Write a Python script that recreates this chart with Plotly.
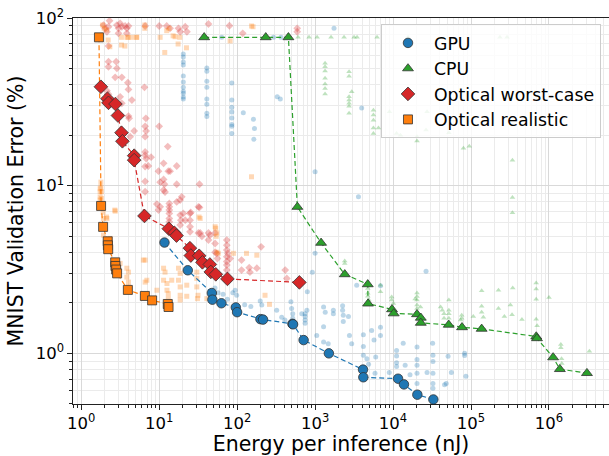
import plotly.graph_objects as go

# ---------------- Pareto fronts ----------------
gpu_x = [11.7, 23.3, 47.4, 48.2, 62.9, 96.2, 100, 199, 215, 512, 522, 713, 1503, 4120, 4160, 11600, 13800, 20500, 32900]
gpu_y = [4.58, 3.13, 2.29, 2.09, 1.99, 1.88, 1.76, 1.60, 1.59, 1.50, 1.49, 1.20, 1.0, 0.80, 0.72, 0.706, 0.653, 0.567, 0.531]

cpu_x = [37.8, 233, 455, 593, 1194, 2404, 4740, 4780, 9700, 10200, 20300, 22700, 22700, 51800, 76700, 137000, 687000, 702000, 1.13e6, 1.38e6, 3.07e6]
cpu_y = [76.7, 76.7, 76.7, 7.47, 4.56, 2.96, 2.58, 1.98, 1.83, 1.73, 1.71, 1.63, 1.52, 1.48, 1.43, 1.40, 1.26, 1.23, 0.946, 0.805, 0.762]

worst_x = [1.79, 2.17, 2.24, 2.75, 2.96, 3.29, 3.38, 4.78, 4.78, 6.48, 13.3, 15.7, 16.7, 24.8, 25.5, 32.6, 35.9, 44.7, 46.0, 53.3, 75.1, 629]
worst_y = [38.9, 33.0, 31.2, 30.7, 26.2, 20.7, 18.4, 15.1, 14.2, 6.60, 5.54, 5.23, 5.04, 4.24, 3.83, 3.82, 3.49, 3.39, 3.06, 2.96, 2.78, 2.65]

real_x = [1.69, 1.80, 1.91, 2.19, 2.20, 2.22, 2.73, 2.75, 2.81, 2.89, 3.97, 6.56, 8.13, 12.9, 13.2]
real_y = [76.7, 7.57, 5.68, 4.66, 4.41, 4.18, 3.49, 3.32, 3.16, 3.00, 2.39, 2.20, 2.07, 1.97, 1.89]

# ---------------- all other (faint) networks ----------------
gpu_all_x = ([20.4] * 11 + [40.9] * 8 + [85.5] * 8 +
             [120, 162, 167, 164, 327, 358, 1000, 1750, 3600, 3960, 63.5, 293, 365,
              94.3, 98.7, 198, 207, 322, 373, 410, 490, 500, 517, 517, 517, 675, 745, 745, 745, 745,
              785, 795, 921, 1000, 1050, 1285, 1350, 1285, 1285, 1716, 1716, 2255, 2255, 2300, 2300,
              2680, 1475, 2760, 2950, 3420, 4160, 4160, 4160, 4620, 5320, 5700, 6900, 6900, 6900,
              4850, 5870, 5990, 8950, 11100, 11100, 11100, 11100, 13500, 14300, 16500, 20300, 20300,
              20300, 20300, 20300, 27300, 26500, 32200, 32500, 32500, 32500, 32500, 32500, 45800,
              48100, 50800, 56000, 82800, 82800, 86000, 52, 57, 66, 75, 88, 125, 150])
gpu_all_y = ([61, 58.5, 54.6, 52.4, 45.1, 41.5, 38.7, 36.6, 35.6, 33.8, 32.9] +
             [50.3, 48.2, 42.0, 38.7, 32.9, 30.6, 27.0, 25.9] +
             [40.9, 32.4, 29.4, 27.5, 25.3, 23.2, 22.6, 20.5] +
             [27.2, 24.9, 21.9, 18.9, 33.9, 32.9, 12.1, 86.8, 8.6, 29.1, 76.7, 76.7, 76.7,
              2.38, 2.22, 2.05, 1.94, 1.81, 1.64, 1.58, 2.03, 1.85, 1.72, 1.62, 1.52, 1.72, 1.72, 1.66, 1.58, 1.51,
              1.81, 2.33, 3.05, 3.95, 1.28, 1.89, 1.76, 1.44, 1.17, 1.81, 1.72, 1.92, 1.81, 1.55, 1.69,
              1.66, 1.14, 1.28, 1.14, 2.55, 1.29, 1.10, 0.973, 0.93, 1.37, 1.20, 1.43, 1.28, 2.53,
              0.86, 0.76, 0.95, 0.77, 1.04, 0.965, 0.88, 0.835, 1.15, 0.85, 0.745, 1.09, 0.92,
              0.85, 0.76, 0.66, 0.77, 3.09, 1.15, 0.973, 0.895, 0.76, 0.66, 0.62, 0.65,
              0.66, 0.96, 0.77, 1.0, 0.97, 0.73, 2.45, 2.3, 2.25, 2.1, 2.3, 1.95, 1.9])

cpu_all_x = ([605, 837, 1062, 1603, 2353, 3162, 3455, 6240, 15570, 2.35e5, 2.9e5] +
             [1343] * 7 + [2729] * 7 + [2950] + [5600] * 5 + [6500] +
             [11100, 12460, 20300, 20300, 26500, 52000, 80000, 95000, 3.4e5, 3.4e5, 3.4e5, 9000, 27300,
              2400, 2400, 4740, 4740, 4740, 4900, 6900, 6900, 9600, 9600, 10100, 20300, 20300, 20300,
              20300, 20300, 19200, 22500, 40700, 42800, 45100, 45100, 52000, 52000, 52000, 52000,
              76000, 76000, 73600, 1.07e5, 1.37e5, 1.37e5, 1.37e5, 1.44e5, 2.25e5, 2.25e5, 2.68e5,
              3.2e5, 3.36e5, 3.43e5, 4.5e5, 6.85e5, 6.85e5, 6.85e5, 6.85e5, 7.05e5, 1.0e6, 1.42e6,
              1.42e6, 1.45e6, 1.46e6, 3.3e6])
cpu_all_y = ([76.7] * 11 +
             [53.7, 51.2, 48.3, 43.7, 40.4, 38.0, 35.2] +
             [47.8, 44.9, 33.9, 32.4, 31.0, 29.8, 27.0] + [36.3] +
             [28.2, 26.4, 24.6, 22.1, 20.5] + [22.1] +
             [20.5, 20.0, 19.6, 18.5, 21.5, 20.7, 16.7, 17.2, 14.2, 8.5, 6.9, 27.6, 27.6,
              3.56, 3.43, 2.44, 2.28, 2.19, 2.08, 2.55, 2.33, 2.17, 2.08, 1.98, 2.29, 2.18, 2.08,
              1.94, 1.85, 2.11, 1.89, 1.89, 1.81, 1.72, 1.62, 2.08, 1.81, 1.72, 1.62,
              1.69, 1.62, 1.58, 1.66, 2.36, 1.91, 1.76, 1.64, 2.38, 1.85, 1.66,
              1.94, 1.70, 2.45, 1.59, 2.63, 2.42, 2.10, 1.60, 1.46, 2.15, 1.13,
              1.08, 0.93, 0.87, 1.03])

worst_all_x = [1.93, 2.03, 2.24, 2.31, 2.87, 3.01, 3.16, 3.32, 3.66, 3.85, 4.04, 2.14, 3.01, 3.85,
               6.61, 10, 12.5, 13.8, 17.7, 18.6, 21.6, 22.7, 42.9, 79.7, 118, 590, 590,
               2.24, 2.24, 2.24, 2.81, 2.87, 2.73, 3.32, 3.97, 4.04, 6.48, 2.14, 2.24, 3.16, 4.47,
               3.32, 4.04, 4.12, 4.78, 4.25, 6.76, 6.61, 6.81, 10, 6.61, 6.61, 6.61, 6.81, 7.88,
               12.9, 6.61, 7.27, 11.4, 16.8, 9.8, 13.1, 13.8, 6.61, 11.4, 10.3, 11.7, 16.8, 6.61,
               11.4, 11.9, 19.5, 18.6, 16.8, 9.34, 10.3, 9.8, 13.5, 13.5, 13.5, 13.5, 13.5, 13.5,
               20.4, 21.6, 25.4, 32.9, 32.9, 18.6, 19.0, 18.6, 24.9, 24.9, 24.9, 24.9, 31.9, 31.9,
               33.6, 35.3, 42.9, 42.9, 44.9, 52.2, 52.2, 52.2, 73.7, 73.7, 73.7, 75.9, 73.7, 73.7,
               73.7, 73.7, 54.8, 55.9, 81.3, 114, 114, 143, 146, 179, 203, 414, 434]
worst_all_y = [90.8, 86.8, 88.7, 96.4, 90.8, 86.8, 93.0, 88.7, 89.6, 86.8, 89.6, 82.8, 81.0, 81.0,
               89.6, 89.6, 89.6, 86.8, 86.8, 82.8, 88.7, 82.8, 92.1, 89.9, 81.0, 86.8, 82.8,
               68.0, 54.9, 51.2, 54.9, 50.1, 44.3, 44.3, 41.1, 37.5, 38.6, 36.8, 35.1, 33.9, 32.4,
               31.0, 26.0, 25.2, 21.2, 19.6, 25.2, 22.6, 21.2, 22.6, 19.6, 15.9, 15.2, 14.5, 14.8,
               17.1, 13.0, 13.1, 13.6, 13.1, 12.2, 12.2, 12.2, 10.6, 10.9, 10.5, 10.2, 10.2, 9.2,
               9.42, 9.17, 8.58, 8.21, 8.0, 7.77, 7.48, 7.15, 7.84, 7.48, 7.15, 6.83, 6.38, 6.09,
               6.83, 6.23, 6.92, 7.42, 10.2, 6.68, 6.23, 5.82, 6.83, 6.23, 5.69, 5.31, 7.48, 5.22,
               5.22, 4.99, 5.22, 4.74, 5.07, 5.22, 4.52, 4.01, 4.74, 4.42, 4.13, 3.95, 3.77, 3.53,
               3.36, 3.14, 3.95, 3.68, 3.68, 3.6, 3.14, 3.24, 3.05, 3.22, 4.32, 3.14, 2.80]

real_all_x = [1.88, 1.97, 2.11, 2.22, 2.33, 3.28, 3.28, 3.63, 4.0, 4.41, 5.11, 3.85, 5.17, 10.3,
              6.55, 6.55, 11.8, 13.4, 15.1, 17.5, 18.4, 22.4, 12.5, 16.0, 81.3, 153, 160, 153,
              1.75, 1.75, 1.75, 1.75, 1.79, 1.79, 1.82, 1.82, 1.91, 2.11, 2.70, 32.5, 2.73, 1.93,
              2.14, 33.6, 1.93, 2.14, 2.35, 2.31, 2.35, 3.16, 3.85, 4.04, 3.85, 4.04, 4.04, 6.27,
              6.61, 6.95, 11.4, 11.9, 11.4, 12.6, 9.34, 12.6, 13.1, 13.1, 14.5, 17.7, 18.6, 17.7,
              18.6, 18.6, 18.6, 22.6, 22.6, 30.4, 30.4, 30.4, 31.5, 31.0, 40.9, 52.2, 54.8, 53.9,
              89.6, 132, 179, 228, 260, 6.61, 53.2, 54.8, 57.3]
real_all_y = [90.8, 86.8, 84.8, 73.9, 67.4, 76.7, 69.0, 68.0, 76.7, 76.7, 76.7, 76.7, 76.7, 76.7,
              90.8, 86.8, 62.3, 86.8, 78.3, 70.0, 76.7, 66.4, 84.0, 77.3, 73.0, 89.6, 88.7, 11.3,
              9.6, 9.2, 8.55, 8.21, 10.5, 9.8, 9.2, 8.4, 6.95, 6.5, 7.15, 6.5, 7.05, 6.38,
              6.38, 6.38, 5.07, 4.74, 4.85, 4.42, 4.32, 3.44, 3.22, 3.05, 2.85, 2.66, 2.49, 3.6,
              2.66, 2.73, 3.22, 3.05, 2.73, 2.61, 2.38, 2.38, 2.27, 2.12, 2.73, 3.22, 3.0, 2.73,
              2.49, 2.22, 2.08, 2.55, 2.19, 3.05, 2.80, 2.49, 2.22, 2.12, 2.12, 5.69, 5.22, 4.99,
              3.95, 3.95, 3.85, 2.22, 1.96, 3.6, 5.57, 4.01, 3.95]

names = ["GPU", "CPU", "Optical worst-case", "Optical realistic"]
x_ticks = [1, 10, 100, 1000, 1e4, 1e5, 1e6]
x_ticktext = ["10<sup>0</sup>", "10<sup>1</sup>", "10<sup>2</sup>", "10<sup>3</sup>",
              "10<sup>4</sup>", "10<sup>5</sup>", "10<sup>6</sup>"]
y_ticks = [1, 10, 100]
y_ticktext = ["10<sup>0</sup>", "10<sup>1</sup>", "10<sup>2</sup>"]

colors = ["#1f77b4", "#2ca02c", "#d62728", "#ff7f0e"]
symbols = ["circle", "triangle-up", "diamond", "square"]
big_sizes = [9.5, 9.5, 10.5, 9]
faint_sizes = [5, 5, 6, 5]

fronts = [(gpu_x, gpu_y), (cpu_x, cpu_y), (worst_x, worst_y), (real_x, real_y)]
faints = [(gpu_all_x, gpu_all_y), (cpu_all_x, cpu_all_y), (worst_all_x, worst_all_y), (real_all_x, real_all_y)]

fig = go.Figure()

# faint points
for i in range(4):
    fx, fy = faints[i]
    fig.add_trace(go.Scatter(x=fx, y=fy, mode="markers", showlegend=False, hoverinfo="skip",
                             marker=dict(symbol=symbols[i], size=faint_sizes[i], color=colors[i],
                                         opacity=0.3, line=dict(width=0))))

# dashed front lines
for i in range(4):
    px, py = fronts[i]
    fig.add_trace(go.Scatter(x=px, y=py, mode="lines", showlegend=False, hoverinfo="skip",
                             line=dict(color=colors[i], width=1.2, dash="5px,3px")))

# front markers
for i in range(4):
    px, py = fronts[i]
    fig.add_trace(go.Scatter(x=px, y=py, mode="markers", name=names[i], legendgroup=names[i],
                             marker=dict(symbol=symbols[i], size=big_sizes[i], color=colors[i],
                                         line=dict(color="#333333", width=0.8))))

grid_major = "#d9d9d9"
grid_minor = "#ebebeb"

fig.update_xaxes(type="log", range=[-0.105, 6.77], tickvals=x_ticks, ticktext=x_ticktext,
                 showgrid=True, gridcolor=grid_major, gridwidth=0.8,
                 showline=True, linecolor="#222222", linewidth=1.2, mirror=True,
                 ticks="outside", ticklen=4.5, tickwidth=1, tickcolor="#222222",
                 minor=dict(dtick="D1", showgrid=True, gridcolor=grid_minor, gridwidth=0.6,
                            ticks="outside", ticklen=2.5, tickcolor="#222222", tickwidth=0.8),
                 tickfont=dict(size=16.5), zeroline=False,
                 title=dict(text="Energy per inference (nJ)", font=dict(size=20.5), standoff=4))
fig.update_yaxes(type="log", range=[-0.302, 2.0], tickvals=y_ticks, ticktext=y_ticktext,
                 showgrid=True, gridcolor=grid_major, gridwidth=0.8,
                 showline=True, linecolor="#222222", linewidth=1.2, mirror=False,
                 ticks="outside", ticklen=4.5, tickwidth=1, tickcolor="#222222",
                 minor=dict(dtick="D1", showgrid=True, gridcolor=grid_minor, gridwidth=0.6,
                            ticks="outside", ticklen=2.5, tickcolor="#222222", tickwidth=0.8),
                 tickfont=dict(size=16.5), zeroline=False,
                 title=dict(text="MNIST Validation Error (%)", font=dict(size=20.5), standoff=6))

fig.update_layout(width=609, height=456, margin=dict(l=73, r=0, t=18, b=52),
                  plot_bgcolor="white", paper_bgcolor="white",
                  font=dict(family="DejaVu Sans", color="black"),
                  legend=dict(x=0.5746, y=0.984, xanchor="left", yanchor="top",
                              bgcolor="rgba(255,255,255,0.8)", bordercolor="#cccccc", borderwidth=1,
                              font=dict(size=17.3), tracegroupgap=0, traceorder="grouped",
                              itemwidth=42))

fig.write_html("out.html")
